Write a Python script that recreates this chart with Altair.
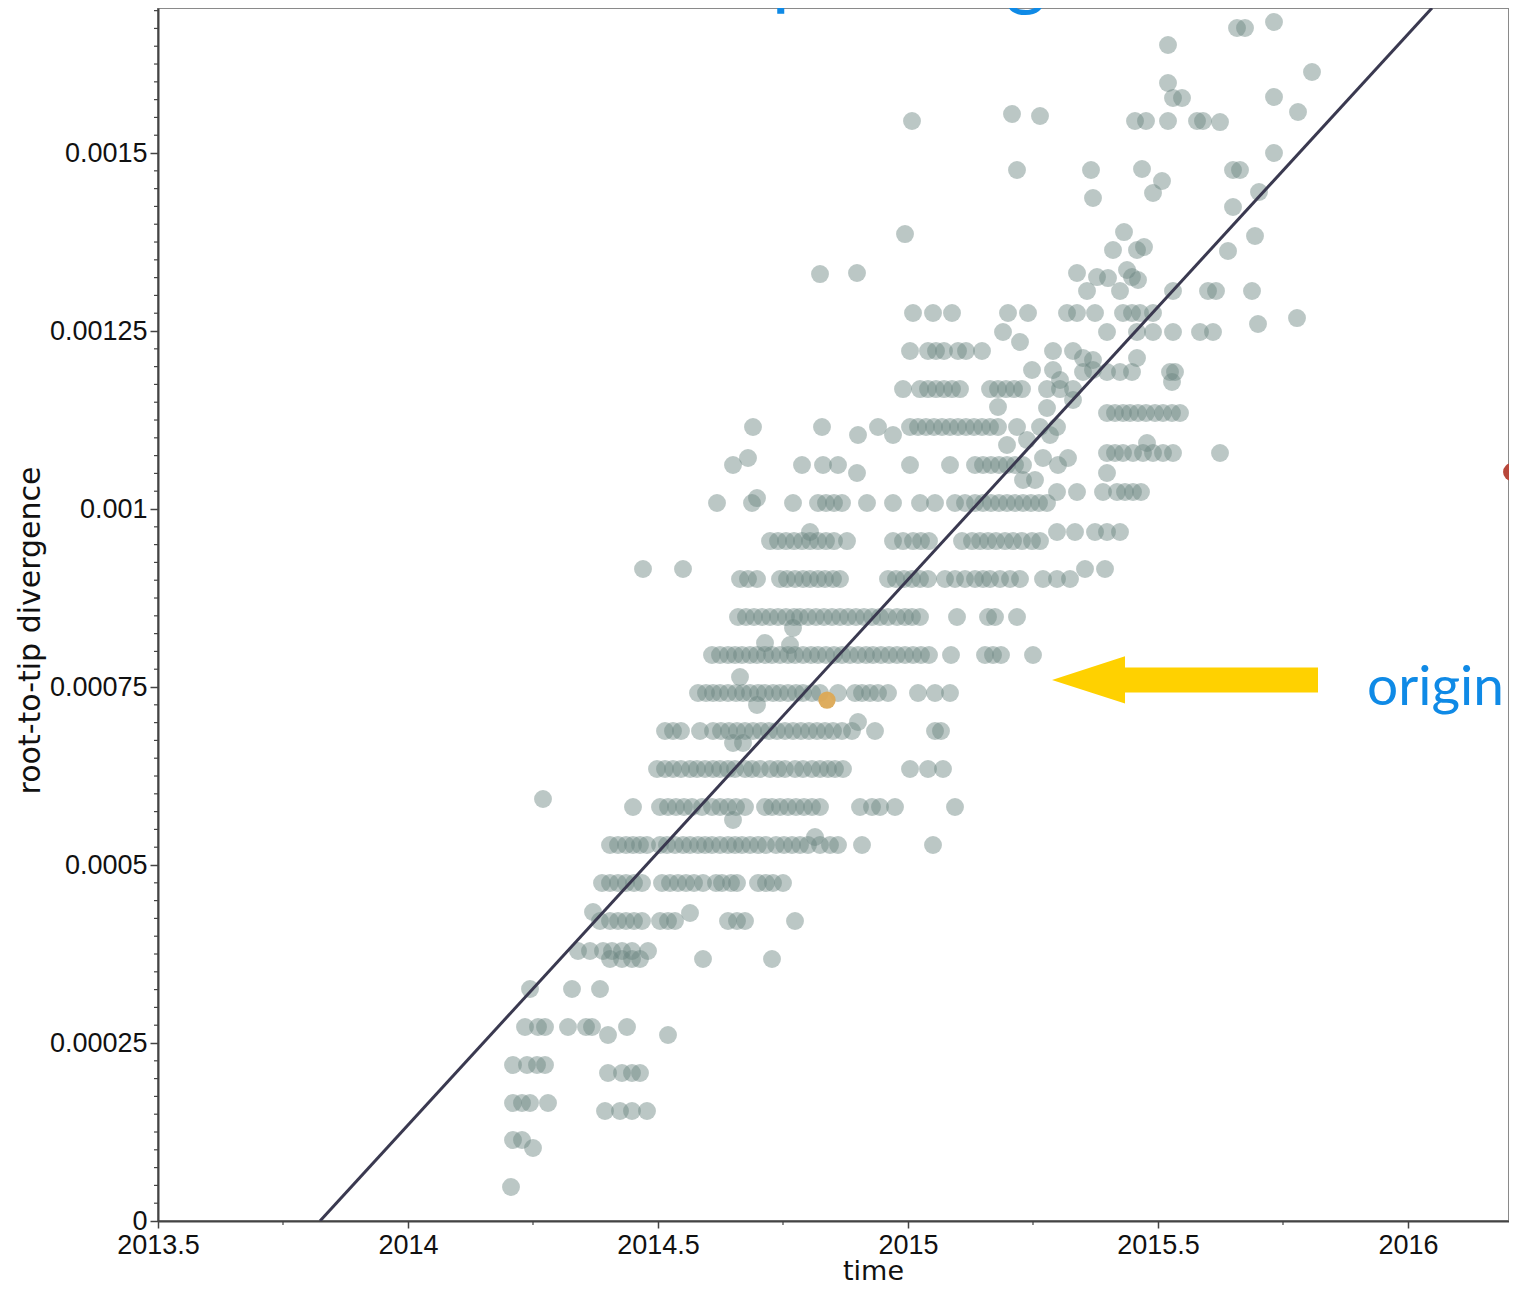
import altair as alt
import pandas as pd

# ---------------- data ----------------
# points lying on (roughly) common divergence levels: one level per row
ROW_LEVELS = [
    0.0000478, 0.0001138, 0.0001025, 0.0001657, 0.0001545, 0.0002079, 0.0002191,
    0.0002612, 0.0002725, 0.0003258, 0.0003680, 0.0003792, 0.0004213, 0.0004747,
    0.0005281, 0.0005815, 0.0006348, 0.0006882, 0.0006713, 0.0007416, 0.0007950,
    0.0008483, 0.0009017, 0.0009157, 0.0009550, 0.0009677, 0.0010084, 0.0010239,
    0.0010407, 0.0010618, 0.0010716, 0.0010787, 0.0011040, 0.0011152, 0.0011348,
    0.0011685, 0.0011924, 0.0011952, 0.0012219, 0.0012753, 0.0012486, 0.0013062,
    0.0015450,
]
ROW_TIMES = [
    [2014.206],
    [2014.210, 2014.228],
    [2014.250],
    [2014.210, 2014.228, 2014.244, 2014.280],
    [2014.394, 2014.424, 2014.448, 2014.478],
    [2014.400, 2014.428, 2014.448, 2014.464],
    [2014.210, 2014.238, 2014.258, 2014.274],
    [2014.400, 2014.520],
    [2014.234, 2014.260, 2014.274, 2014.320, 2014.356, 2014.368, 2014.438],
    [2014.244, 2014.328, 2014.384],
    [2014.404, 2014.428, 2014.448, 2014.464, 2014.590, 2014.728],
    [2014.340, 2014.364, 2014.390, 2014.408, 2014.428, 2014.448, 2014.480],
    [2014.384, 2014.404, 2014.420, 2014.436, 2014.452, 2014.468, 2014.504, 2014.520,
     2014.534, 2014.640, 2014.658, 2014.674, 2014.774],
    [2014.388, 2014.404, 2014.420, 2014.436, 2014.452, 2014.468, 2014.508, 2014.524,
     2014.540, 2014.556, 2014.572, 2014.590, 2014.616, 2014.628, 2014.646, 2014.658,
     2014.700, 2014.716, 2014.730, 2014.750],
    [2014.404, 2014.420, 2014.436, 2014.450, 2014.464, 2014.478, 2014.504, 2014.518,
     2014.534, 2014.550, 2014.564, 2014.580, 2014.594, 2014.608, 2014.624, 2014.640,
     2014.654, 2014.668, 2014.684, 2014.700, 2014.716, 2014.736, 2014.752, 2014.768,
     2014.784, 2014.800, 2014.824, 2014.844, 2014.860, 2014.908, 2015.050],
    [2014.450, 2014.504, 2014.520, 2014.536, 2014.552, 2014.568, 2014.588, 2014.608,
     2014.624, 2014.640, 2014.656, 2014.674, 2014.714, 2014.728, 2014.744, 2014.760,
     2014.776, 2014.792, 2014.808, 2014.824, 2014.904, 2014.928, 2014.944, 2014.974,
     2015.094],
    [2014.498, 2014.514, 2014.530, 2014.546, 2014.564, 2014.578, 2014.594, 2014.610,
     2014.624, 2014.640, 2014.654, 2014.674, 2014.688, 2014.704, 2014.724, 2014.740,
     2014.754, 2014.774, 2014.790, 2014.808, 2014.824, 2014.840, 2014.854, 2014.870,
     2015.004, 2015.040, 2015.070],
    [2014.514, 2014.530, 2014.546, 2014.584, 2014.610, 2014.626, 2014.642, 2014.658,
     2014.674, 2014.690, 2014.706, 2014.722, 2014.738, 2014.754, 2014.770, 2014.786,
     2014.802, 2014.818, 2014.834, 2014.850, 2014.868, 2014.888, 2014.934, 2015.054,
     2015.066],
    [2014.650, 2014.670],
    [2014.580, 2014.596, 2014.610, 2014.624, 2014.640, 2014.656, 2014.670, 2014.684,
     2014.700, 2014.714, 2014.730, 2014.744, 2014.760, 2014.776, 2014.790, 2014.808,
     2014.824, 2014.860, 2014.894, 2014.908, 2014.924, 2014.940, 2014.960, 2015.020,
     2015.054, 2015.084],
    [2014.608, 2014.624, 2014.640, 2014.654, 2014.668, 2014.684, 2014.698, 2014.714,
     2014.728, 2014.744, 2014.760, 2014.774, 2014.790, 2014.806, 2014.820, 2014.836,
     2014.852, 2014.868, 2014.884, 2014.900, 2014.916, 2014.930, 2014.946, 2014.962,
     2014.978, 2014.994, 2015.010, 2015.026, 2015.042, 2015.086, 2015.154, 2015.170,
     2015.186, 2015.250],
    [2014.660, 2014.676, 2014.692, 2014.708, 2014.724, 2014.740, 2014.756, 2014.772,
     2014.784, 2014.800, 2014.816, 2014.832, 2014.848, 2014.864, 2014.880, 2014.896,
     2014.912, 2014.928, 2014.944, 2014.960, 2014.978, 2014.994, 2015.008, 2015.024,
     2015.098, 2015.160, 2015.174, 2015.218],
    [2014.664, 2014.680, 2014.698, 2014.744, 2014.758, 2014.774, 2014.790, 2014.804,
     2014.820, 2014.834, 2014.850, 2014.864, 2014.960, 2014.976, 2014.992, 2015.008,
     2015.024, 2015.040, 2015.074, 2015.094, 2015.114, 2015.134, 2015.150, 2015.164,
     2015.184, 2015.204, 2015.224, 2015.270, 2015.298, 2015.324],
    [2014.470, 2014.550, 2015.354, 2015.394],
    [2014.724, 2014.740, 2014.756, 2014.772, 2014.788, 2014.804, 2014.820, 2014.836,
     2014.852, 2014.878, 2014.970, 2014.990, 2015.010, 2015.026, 2015.042, 2015.108,
     2015.128, 2015.144, 2015.160, 2015.176, 2015.194, 2015.210, 2015.228, 2015.248,
     2015.264],
    [2014.804, 2015.298, 2015.334, 2015.374, 2015.398, 2015.424],
    [2014.618, 2014.688, 2014.770, 2014.820, 2014.836, 2014.852, 2014.868, 2014.918,
     2014.970, 2015.024, 2015.054, 2015.094, 2015.114, 2015.134, 2015.150, 2015.166,
     2015.182, 2015.198, 2015.214, 2015.230, 2015.246, 2015.262, 2015.278],
    [2015.298, 2015.338, 2015.390, 2015.418, 2015.434, 2015.450, 2015.466],
    [2015.230, 2015.254],
    [2014.650, 2014.788, 2014.830, 2014.860, 2015.004, 2015.084, 2015.134, 2015.150,
     2015.166, 2015.182, 2015.198, 2015.214, 2015.230, 2015.300],
    [2014.680, 2015.270, 2015.320],
    [2015.398, 2015.414, 2015.430, 2015.450, 2015.470, 2015.490, 2015.510, 2015.530,
     2015.624],
    [2014.900, 2014.970, 2015.284],
    [2014.690, 2014.828, 2014.940, 2015.004, 2015.020, 2015.036, 2015.052, 2015.068,
     2015.084, 2015.100, 2015.116, 2015.132, 2015.148, 2015.164, 2015.180, 2015.218,
     2015.264, 2015.298],
    [2015.398, 2015.414, 2015.430, 2015.444, 2015.460, 2015.476, 2015.494, 2015.510,
     2015.528, 2015.544],
    [2014.990, 2015.024, 2015.040, 2015.056, 2015.072, 2015.088, 2015.104, 2015.164,
     2015.180, 2015.196, 2015.212, 2015.228, 2015.278, 2015.304, 2015.330],
    [2015.350, 2015.398, 2015.424, 2015.448, 2015.524, 2015.534],
    [2015.248, 2015.290, 2015.370],
    [2015.004, 2015.040, 2015.056, 2015.072, 2015.100, 2015.116, 2015.148, 2015.290,
     2015.330],
    [2015.010, 2015.050, 2015.088, 2015.200, 2015.240, 2015.318, 2015.338, 2015.374,
     2015.430, 2015.448, 2015.464, 2015.490],
    [2015.190, 2015.398, 2015.458, 2015.490, 2015.530, 2015.584, 2015.610],
    [2015.358, 2015.424, 2015.530, 2015.600, 2015.616, 2015.688],
    [2015.008, 2015.454, 2015.476, 2015.520, 2015.578, 2015.590],
]

# isolated points (time, divergence)
EXTRA_TIMES = [
    2014.564, 2014.370, 2014.814, 2014.270, 2014.650, 2014.900, 2014.664, 2014.698,
    2014.714, 2014.764, 2014.770, 2014.698, 2014.898, 2015.398, 2015.478, 2015.238,
    2015.198, 2015.180, 2015.278, 2015.330, 2015.304, 2015.528, 2015.350, 2015.370,
    2015.458, 2015.224, 2015.700, 2015.778,
    2015.338, 2015.378, 2015.400, 2015.438, 2015.448, 2015.460,
    2015.432, 2015.410, 2015.458, 2015.472, 2015.640, 2015.694, 2015.650, 2015.702,
    2015.732, 2015.650, 2015.664, 2015.468, 2015.508, 2015.490, 2015.366, 2015.370,
    2015.218, 2015.208, 2015.264, 2015.624, 2015.530, 2015.548, 2015.520, 2015.520,
    2015.658, 2015.674, 2015.732, 2015.808, 2015.732, 2015.780, 2014.994, 2014.824,
    2014.898,
]
EXTRA_DIVS = [
    0.0004326, 0.0004340, 0.0005393, 0.0005927, 0.0005632, 0.0007008, 0.0007640, 0.0007247,
    0.0008118, 0.0008090, 0.0008329, 0.0010154, 0.0010506, 0.0010506, 0.0010927, 0.0010969,
    0.0010899, 0.0011433, 0.0011419, 0.0011531, 0.0011812, 0.0011784, 0.0012121, 0.0012093,
    0.0012121, 0.0012346, 0.0012598, 0.0012682,
    0.0013315, 0.0013258, 0.0013244, 0.0013357, 0.0013258, 0.0013216,
    0.0013890, 0.0013638, 0.0013638, 0.0013680, 0.0013624, 0.0013834, 0.0014242, 0.0014452,
    0.0015000, 0.0014761, 0.0014761, 0.0014775, 0.0014607, 0.0014438, 0.0014761, 0.0014368,
    0.0014761, 0.0015548, 0.0015520, 0.0015435, 0.0015773, 0.0015773, 0.0015983, 0.0016517,
    0.0016756, 0.0016756, 0.0016840, 0.0016138, 0.0015787, 0.0015576, 0.0013862, 0.0013300,
    0.0013315,
]

HIGHLIGHT_TIME = [2014.838]          # orange sample
HIGHLIGHT_DIV = [0.0007317]
OUTLIER_TIME = [2016.208]            # red sample at the right edge
OUTLIER_DIV = [0.001052]

LINE_TIME = [2013.824, 2016.048]     # regression line end points
LINE_DIV = [0.0, 0.0017037]

X_TICKS = [2013.5, 2014, 2014.5, 2015, 2015.5, 2016]
X_MINOR = [2013.75, 2014.25, 2014.75, 2015.25, 2015.75]
Y_TICKS = [0, 0.00025, 0.0005, 0.00075, 0.001, 0.00125, 0.0015]
Y_MINOR = [round(k * 0.000025, 7) for k in range(0, 69) if k % 10 != 0]

X_DOMAIN = [2013.5, 2016.202]
Y_DOMAIN = [0, 0.0017037]

TITLE_TEXT = "Root-to-tip divergence"
ANNOT_TEXT = "origin"

# ---------------- tables ----------------
pts = []
for lvl, times in zip(ROW_LEVELS, ROW_TIMES):
    for t in times:
        pts.append({"time": t, "div": lvl})
for t, d in zip(EXTRA_TIMES, EXTRA_DIVS):
    pts.append({"time": t, "div": d})
points_df = pd.DataFrame(pts)

FONT = "Liberation Sans"
TFONT = "DejaVu Sans"

X = alt.X(
    "time:Q",
    scale=alt.Scale(domain=X_DOMAIN, nice=False, zero=False),
    axis=alt.Axis(
        values=X_TICKS, format=".1~f", title="time", grid=False,
        tickSize=7, tickWidth=1.5, tickColor="#444",
        domainColor="#444", domainWidth=2,
        labelFont=FONT, labelFontSize=27, labelColor="#111", labelPadding=4,
        labelFlush=False, labelOverlap=False,
        titleFont=TFONT, titleFontSize=27, titleFontWeight="normal", titleColor="#111",
        titleX=715, titleY=58, titleAlign="center", titleBaseline="alphabetic",
    ),
)
Y = alt.Y(
    "div:Q",
    scale=alt.Scale(domain=Y_DOMAIN, nice=False, zero=False),
    axis=alt.Axis(
        values=Y_TICKS, format=".5~f", title="root-to-tip divergence", grid=False,
        tickSize=8, tickWidth=1.5, tickColor="#444",
        domainColor="#444", domainWidth=2,
        labelFont=FONT, labelFontSize=27, labelColor="#111", labelPadding=3,
        labelFlush=False, labelOverlap=False,
        titleFont=TFONT, titleFontSize=30, titleFontWeight="normal", titleColor="#111",
        titleX=-128, titleY=622, titleAngle=270, titleAlign="center",
        titleBaseline="middle",
    ),
)

points = alt.Chart(points_df).mark_circle(
    size=320, color="#6b8581", opacity=0.46
).encode(x=X, y=Y)

line = alt.Chart(pd.DataFrame({"time": LINE_TIME, "div": LINE_DIV})).mark_line(
    color="#3a3950", strokeWidth=3, clip=True
).encode(x=X, y=Y)

highlight = alt.Chart(pd.DataFrame({"time": HIGHLIGHT_TIME, "div": HIGHLIGHT_DIV})).mark_circle(
    size=300, color="#dca955", opacity=0.95
).encode(x=X, y=Y)

outlier = alt.Chart(pd.DataFrame({"time": OUTLIER_TIME, "div": OUTLIER_DIV})).mark_circle(
    size=320, color="#b8473b", opacity=1
).encode(x=X, y=Y)

y_minor = alt.Chart(pd.DataFrame({"div": Y_MINOR})).mark_rule(
    color="#444", strokeWidth=1.2
).encode(y=Y, x=alt.value(-4), x2=alt.value(0))

x_minor = alt.Chart(pd.DataFrame({"time": X_MINOR})).mark_rule(
    color="#444", strokeWidth=1.2
).encode(x=X, y=alt.value(1213), y2=alt.value(1217))

ARROW_PATH = ("M -1 0 L -0.451 -0.177 L -0.451 -0.094 L 1 -0.094 L 1 0.094 "
              "L -0.451 0.094 L -0.451 0.177 Z")
arrow = alt.Chart(pd.DataFrame({"time": [2015.554], "div": [0.00076]})).mark_point(
    shape=ARROW_PATH, size=70756, filled=True, fill="#ffd100", strokeWidth=0, opacity=1
).encode(x=X, y=Y)

annot = alt.Chart(pd.DataFrame({"time": [2015.918], "div": [0.0007247], "t": [ANNOT_TEXT]})).mark_text(
    align="left", baseline="alphabetic", font="Lato", fontSize=55, color="#0f8ae6"
).encode(x=X, y=Y, text="t:N")

title = alt.Chart(pd.DataFrame({"time": [2014.824], "div": [0.001715], "t": [TITLE_TEXT]})).mark_text(
    align="center", baseline="alphabetic", font="Lato", fontSize=78, color="#0f8ae6"
).encode(x=X, y=Y, text="t:N")

chart = alt.layer(
    points, line, highlight, outlier, y_minor, x_minor, arrow, annot, title
).properties(
    width=1351, height=1213,
    autosize=alt.AutoSizeParams(type="none"),
    padding={"left": 150, "top": 0, "right": 0, "bottom": 64},
).configure_view(stroke="#8a8a8a", strokeWidth=2)

chart.save("out.html", embed_options={"renderer": "svg", "actions": False})
